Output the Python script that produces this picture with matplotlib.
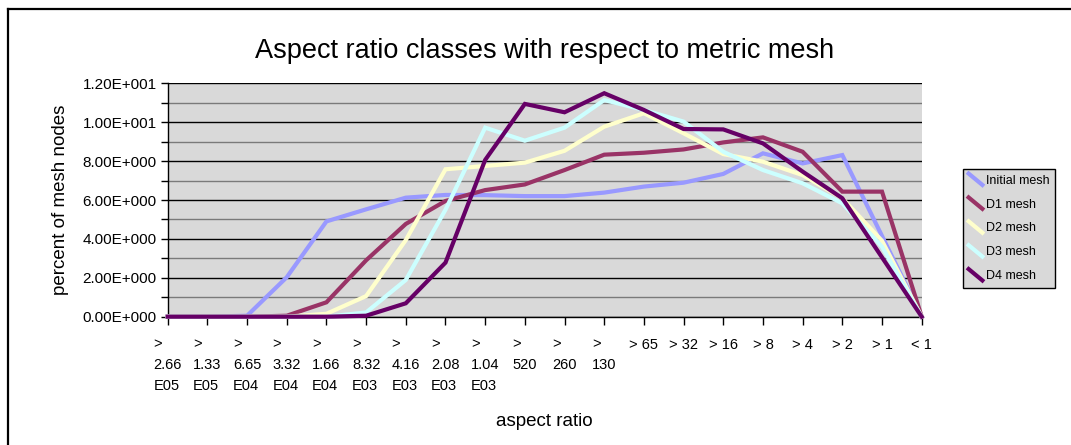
import matplotlib
matplotlib.use("Agg")
import math
import matplotlib.pyplot as plt
from matplotlib.lines import Line2D
from matplotlib.legend_handler import HandlerBase
from matplotlib.ticker import FuncFormatter, MultipleLocator

plt.rcParams['font.family'] = ['Liberation Sans', 'DejaVu Sans']

categories = [">\n2.66\nE05", ">\n1.33\nE05", ">\n6.65\nE04", ">\n3.32\nE04",
              ">\n1.66\nE04", ">\n8.32\nE03", ">\n4.16\nE03", ">\n2.08\nE03",
              ">\n1.04\nE03", ">\n520", ">\n260", ">\n130", "> 65", "> 32",
              "> 16", "> 8", "> 4", "> 2", "> 1", "< 1"]

initial_mesh = [0, 0, 0.05, 2.03, 4.9, 5.52, 6.12, 6.26, 6.25, 6.2, 6.2, 6.38,
                6.69, 6.89, 7.34, 8.4, 7.88, 8.31, 4.15, 0]
d1_mesh = [0, 0, 0, 0.05, 0.74, 2.9, 4.77, 5.95, 6.51, 6.8, 7.54, 8.33,
           8.43, 8.6, 8.96, 9.22, 8.48, 6.43, 6.43, 0]
d2_mesh = [0, 0, 0, 0, 0.15, 1.06, 3.94, 7.58, 7.75, 7.92, 8.53, 9.77,
           10.46, 9.43, 8.36, 7.97, 7.28, 6.09, 3.9, 0]
d3_mesh = [0, 0, 0, 0, 0, 0.22, 1.89, 5.5, 9.72, 9.05, 9.72, 11.14,
           10.63, 10.03, 8.48, 7.54, 6.86, 5.83, 3.6, 0]
d4_mesh = [0, 0, 0, 0, 0, 0.05, 0.69, 2.78, 8.06, 10.94, 10.51, 11.49,
           10.63, 9.65, 9.63, 8.91, 7.46, 6.09, 3.05, 0]

series_names = ["Initial mesh", "D1 mesh", "D2 mesh", "D3 mesh", "D4 mesh"]
series_values = [initial_mesh, d1_mesh, d2_mesh, d3_mesh, d4_mesh]
series_colors = ["#9999FF", "#993366", "#FFFFCC", "#CCFFFF", "#660066"]

W, H = 1071, 445
fig = plt.figure(figsize=(W / 100, H / 100), dpi=100)
ax = fig.add_axes([167.7 / W, 1 - 316.7 / H, (921.7 - 167.7) / W, (316.7 - 83.3) / H])
ax.set_facecolor("#D9D9D9")

x = list(range(len(categories)))
lines = []
for name, vals, col in zip(series_names, series_values, series_colors):
    ln, = ax.plot(x, vals, color=col, lw=3, label=name, clip_on=False,
                  solid_joinstyle='miter', zorder=3)
    lines.append(ln)

ax.set_xlim(0, len(categories) - 1)
ax.set_ylim(0, 12)

# gridlines: black at even, gray at odd
for v in range(0, 13):
    ax.axhline(v, color="black" if v % 2 == 0 else "#7a7a7a", lw=1.0, zorder=1)

ax.yaxis.set_major_locator(MultipleLocator(2))
ax.yaxis.set_minor_locator(MultipleLocator(1))


def fmt(v, pos):
    if v == 0:
        return "0.00E+000"
    e = int(math.floor(math.log10(abs(v))))
    m = v / 10 ** e
    return "%.2fE%+04d" % (m, e)


ax.yaxis.set_major_formatter(FuncFormatter(fmt))
ax.tick_params(axis='y', which='both', direction='out', length=5, width=1,
               labelsize=11, pad=3)
ax.set_xticks(x)
ax.set_xticklabels(categories, fontsize=10.5, linespacing=1.62,
                   multialignment='left')
ax.tick_params(axis='x', direction='out', length=6, width=1, pad=9)

ax.spines["right"].set_visible(False)
ax.spines["top"].set_visible(False)
ax.spines["left"].set_linewidth(1.0)
ax.spines["bottom"].set_linewidth(1.0)

ax.set_xlabel("aspect ratio", fontsize=13.5, labelpad=14)
ax.set_ylabel("percent of mesh nodes", fontsize=13.5, labelpad=10)

fig.text(544.5 / W, 1 - 51 / H, "Aspect ratio classes with respect to metric mesh",
         fontsize=19.5, ha='center', va='center')


class DiagHandler(HandlerBase):
    def create_artists(self, legend, orig_handle, xdescent, ydescent, width,
                       height, fontsize, trans):
        l = Line2D([-xdescent, -xdescent + width],
                   [-ydescent + height * 1.15, -ydescent - height * 0.15],
                   color=orig_handle.get_color(), lw=3, transform=trans)
        return [l]


leg = fig.legend(handles=lines, labels=series_names, loc='upper left',
                 bbox_to_anchor=(963 / W, 1 - 169 / H), borderaxespad=0,
                 fontsize=9, frameon=True, fancybox=False, edgecolor='black',
                 facecolor="#D9D9D9", framealpha=1, handlelength=1.1,
                 handletextpad=0.25, labelspacing=0.95, borderpad=0.45,
                 handler_map={Line2D: DiagHandler()})
leg.get_frame().set_linewidth(1.0)

# outer frame
fig.add_artist(Line2D([8 / W, 8 / W], [0, 1 - 9 / H], color='black', lw=1.6,
                      transform=fig.transFigure))
fig.add_artist(Line2D([8 / W, 1], [1 - 9 / H, 1 - 9 / H], color='black', lw=1.6,
                      transform=fig.transFigure))

fig.savefig("out.png", dpi=100)
